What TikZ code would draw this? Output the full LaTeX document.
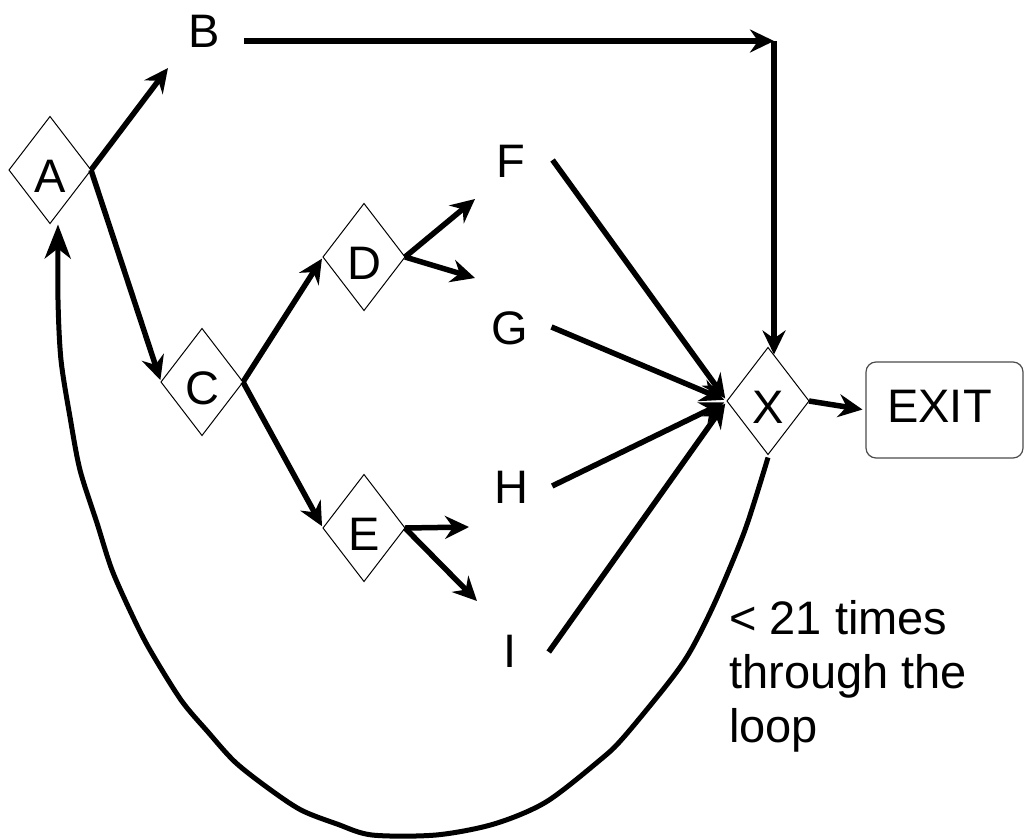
\documentclass[tikz,border=0pt]{standalone}
\usepackage{fontspec}
\setmainfont{Liberation Sans}
\usetikzlibrary{shapes.geometric,arrows.meta}
\begin{document}
\begin{tikzpicture}[x=1pt,y=-1pt,
  every node/.style={font=\fontsize{47}{54}\selectfont},
  dia/.style={diamond, draw, line width=1pt, minimum width=82pt, minimum height=107pt,
    inner sep=0pt, outer sep=0pt, text height=45pt, text depth=0pt},
  lbl/.style={inner sep=0pt, text height=34pt, text depth=0pt},
  arr/.style={line width=5.5pt, -{Stealth[length=24pt,width=23pt,inset=8pt]}},
  looparr/.style={line width=5pt, -{Stealth[length=34pt,width=26pt,inset=10pt]}},
  exitbox/.style={draw=black!70, line width=1.2pt, rounded corners=10pt,
    minimum width=157pt, minimum height=96pt, inner sep=0pt,
    text height=34pt, text depth=9pt}
]
\fill[white] (0,0) rectangle (1025,838);
\useasboundingbox (0,0) rectangle (1025,838);

% decision diamonds
\node[dia] (A) at (50,170) {A};
\node[dia] (C) at (202,382) {C};
\node[dia] (D) at (364,257) {D};
\node[dia] (E) at (364,528) {E};
\node[dia] (X) at (768,401) {X};

% plain labels
\node[lbl] (B) at (204,30) {B};
\node[lbl] (F) at (511,160) {F};
\node[lbl] (G) at (510,327) {G};
\node[lbl] (H) at (511,486) {H};
\node[lbl] (I) at (510,650) {I};

\node[exitbox] (EXIT) at (944.5,410) {EXIT\kern10pt};

% base anchor of a multi-line node is the baseline of its last line
\node[anchor=base west, align=left, inner sep=0pt] (note) at (729,742)
  {< 21 times\\through the\\loop};

% free ends
\coordinate (tB) at (168,68);
\coordinate (BX) at (774,41);
\coordinate (tF) at (475,199);
\coordinate (tG) at (475,278);
\coordinate (tH) at (469,527);
\coordinate (tI) at (477,601);
\coordinate (Xs) at ([yshift=-3pt]X.south);
\coordinate (Aend) at ([xshift=8pt,yshift=-1pt]A.south);

% connectors
\draw[arr] (A.east) -- (tB);
\draw[arr, shorten >=2pt] (A.east) -- (C.west);
\draw[arr] ([xshift=24pt,yshift=-11pt]B.east) -- (BX);
\draw[arr, shorten >=-7pt] (BX) -- (BX |- X.north);
\draw[arr, shorten >=2pt] (C.east) -- (D.west);
\draw[arr, shorten >=2pt] (C.east) -- (E.west);
\draw[arr] (D.east) -- (tF);
\draw[arr] (D.east) -- (tG);
\draw[arr] (E.east) -- (tH);
\draw[arr] (E.east) -- (tI);
\draw[arr, shorten >=3pt] ([xshift=27pt]F.east) -- (X.west);
\draw[arr, shorten >=3pt] ([xshift=23pt]G.east) -- (X.west);
\draw[arr, shorten >=3pt] ([xshift=24pt]H.east) -- (X.west);
\draw[arr, shorten >=3pt] ([xshift=32pt,yshift=-2pt]I.east) -- (X.west);
\draw[arr, shorten >=3pt] (X.east) -- (EXIT.west);

% loop back
\draw[looparr] plot[smooth, tension=0.5] coordinates {(Xs) (745,530) (716,600) (691,650)
  (669,682) (623,738) (600,760) (546,802) (494,824) (436,835) (372,835) (337,824)
  (301,810) (268,788) (235,762) (208,732) (181,700) (150,650) (133,617) (112,570)
  (97,523) (80,470) (70,417) (61,360) (58,300) (Aend)};
\end{tikzpicture}
\end{document}
